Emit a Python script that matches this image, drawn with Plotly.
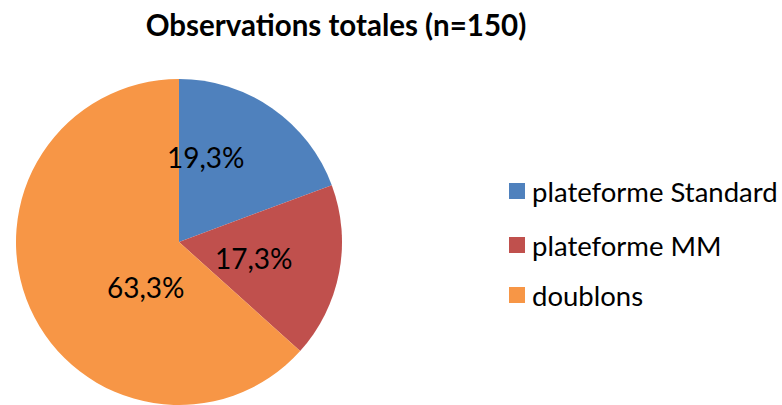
import plotly.graph_objects as go

# Observation counts per category (n = 150)
categories = ["plateforme Standard", "plateforme MM", "doublons"]
counts = [29, 26, 95]
colors = ["#4F81BD", "#C0504D", "#F79646"]

total = sum(counts)
pct_labels = [f"{c / total * 100:.1f}%".replace(".", ",") for c in counts]

W, H = 782, 405
FONT = "Lato"

fig = go.Figure(
    go.Pie(
        labels=categories,
        values=counts,
        marker=dict(colors=colors, line=dict(width=0)),
        sort=False,
        direction="clockwise",
        rotation=0,
        textinfo="none",
        hoverinfo="label+percent",
        showlegend=False,
        domain=dict(x=[16 / W, 342 / W], y=[0, 326 / H]),
    )
)

# Percentage labels inside the slices
label_pos = [(206, 157), (254, 258), (146, 287)]
for txt, (px, py) in zip(pct_labels, label_pos):
    fig.add_annotation(
        x=px / W, y=1 - py / H, xref="paper", yref="paper",
        text=txt, showarrow=False, xanchor="center", yanchor="middle",
        font=dict(family=FONT, size=28, color="#000000"),
    )

# Legend: colour square plus category name
legend_y = [191, 245, 295]
for name, col, ly in zip(categories, colors, legend_y):
    fig.add_shape(
        type="rect", xref="paper", yref="paper",
        x0=509 / W, x1=525 / W, y0=1 - (ly - 8) / H, y1=1 - (ly + 8) / H,
        fillcolor=col, line=dict(width=0),
    )
    fig.add_annotation(
        x=530 / W, y=1 - ly / H, xref="paper", yref="paper",
        text=name, showarrow=False, xanchor="left", yanchor="middle",
        font=dict(family=FONT, size=27.5, color="#000000"),
    )

fig.update_layout(
    width=W, height=H,
    margin=dict(l=0, r=0, t=0, b=0),
    paper_bgcolor="#FFFFFF",
    plot_bgcolor="#FFFFFF",
    title=dict(
        text="<b>Observations totales (n=150)</b>",
        x=336 / W, xanchor="center", y=1 - 26 / H, yanchor="middle",
        font=dict(family=FONT, size=29.5, color="#000000"),
    ),
)

fig.write_html("out.html")
